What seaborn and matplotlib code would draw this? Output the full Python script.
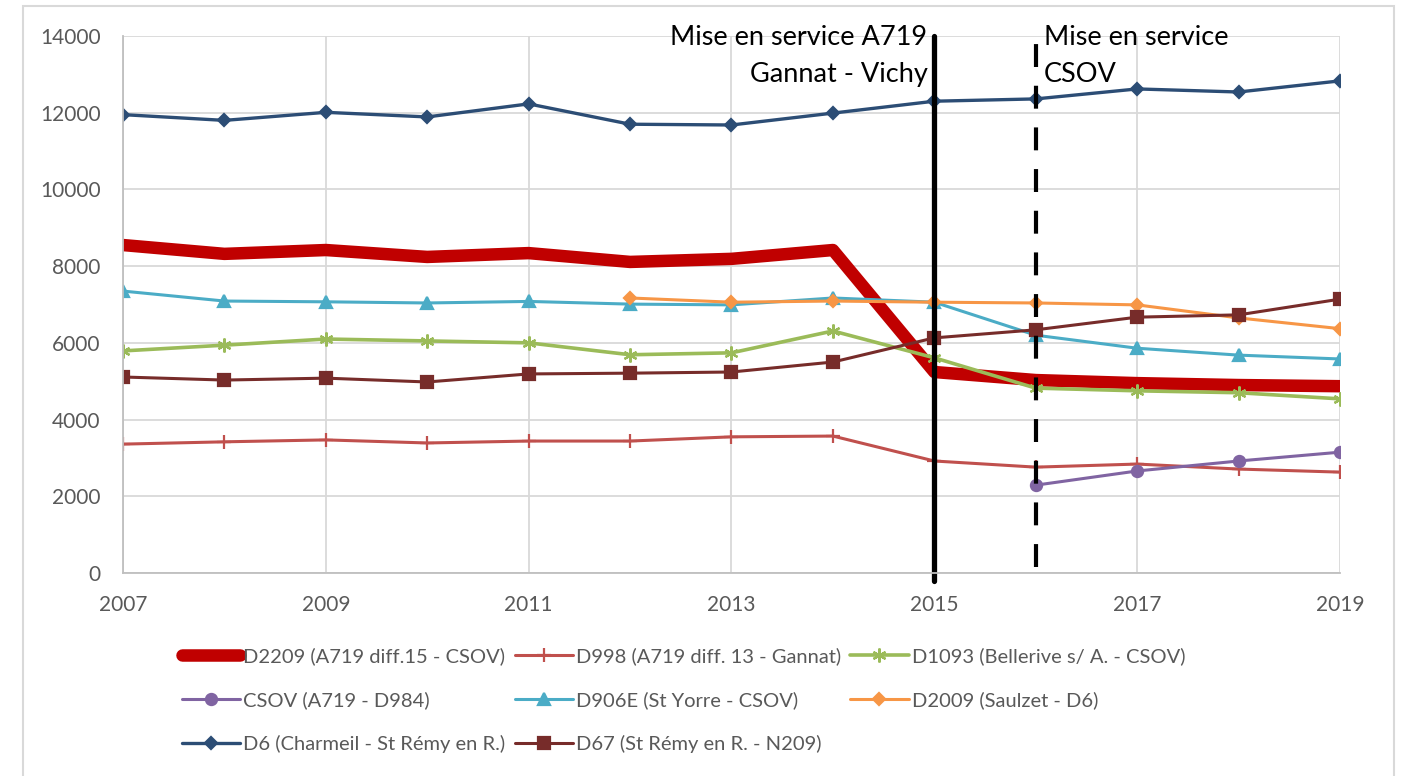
import numpy as np
import matplotlib
matplotlib.use("Agg")
import matplotlib.pyplot as plt
from matplotlib.patches import Rectangle
import seaborn as sns

# Years on the x axis
years = list(range(2007, 2020))

# Traffic values (vehicles / day)
d2209 = [8550, 8320, 8420, 8240, 8340, 8110, 8190, 8420, 5240, 5030, 4950, 4900, 4870]
d998 = [3360, 3420, 3470, 3390, 3440, 3440, 3550, 3570, 2920, 2760, 2840, 2710, 2630]
d1093 = [5790, 5940, 6100, 6050, 6000, 5690, 5740, 6310, 5610, 4820, 4750, 4700, 4540]
csov = [np.nan] * 9 + [2290, 2660, 2920, 3150]
d906e = [7350, 7090, 7070, 7040, 7080, 7010, 6990, 7170, 7060, 6200, 5860, 5680, 5580]
d2009 = [np.nan] * 5 + [7170, 7060, 7090, 7060, 7040, 6990, 6650, 6370]
d6 = [11950, 11800, 12010, 11890, 12230, 11700, 11680, 11990, 12300, 12360, 12620, 12540, 12830]
d67 = [5110, 5030, 5080, 4980, 5190, 5210, 5240, 5500, 6130, 6340, 6670, 6730, 7140]

labels = [
    "D2209 (A719 diff.15 - CSOV)",
    "D998 (A719 diff. 13 - Gannat)",
    "D1093 (Bellerive s/ A. - CSOV)",
    "CSOV (A719 - D984)",
    "D906E (St Yorre - CSOV)",
    "D2009 (Saulzet - D6)",
    "D6 (Charmeil - St Rémy en R.)",
    "D67 (St Rémy en R. - N209)",
]

sns.set_style("white")
plt.rcParams["font.family"] = ["Lato", "DejaVu Sans"]

fig = plt.figure(figsize=(14.11, 7.76), dpi=100)
ax = fig.add_axes([123 / 1411, 1 - 573 / 776, 1217 / 1411, 537 / 776])

# (values, colour, marker, markersize, linewidth)
styles = [
    (d2209, "#C00000", None, 0, 9.0),
    (d998, "#C0504D", "+", 10, 2.2),
    (d1093, "#9BBB59", (6, 2, 0), 10, 2.6),
    (csov, "#8064A2", "o", 8, 2.2),
    (d906e, "#4BACC6", "^", 9, 2.2),
    (d2009, "#F79646", "D", 6.5, 2.2),
    (d6, "#2C4D75", "D", 6.5, 2.4),
    (d67, "#772C2A", "s", 8.5, 2.2),
]

handles = []
for (vals, col, mk, ms, lw), lab in zip(styles, labels):
    sns.lineplot(x=years, y=vals, ax=ax, color=col, marker=mk, markersize=ms,
                 linewidth=lw, markeredgecolor=col, markeredgewidth=1.6,
                 label=lab, legend=False, solid_capstyle="round")
    handles.append(ax.lines[-1])

# Mise en service markers
ax.axvline(2015, ymin=-0.015, ymax=1.0, color="black", linewidth=3.8, clip_on=False)
ax.axvline(2016, ymin=0.012, ymax=1.0, color="black", linewidth=3.0, dashes=(5.5, 4.5))

ax.annotate("Mise en service A719\nGannat - Vichy", xy=(2015, 14000), xytext=(-5, 8),
            textcoords="offset points", ha="right", va="top", fontsize=19.5,
            linespacing=1.6, color="black")
ax.annotate("Mise en service\nCSOV", xy=(2016, 14000), xytext=(6, 8),
            textcoords="offset points", ha="left", va="top", fontsize=19.5,
            linespacing=1.6, color="black")

ax.set_xlim(2007, 2019)
ax.set_ylim(0, 14000)
ax.set_xticks(range(2007, 2020, 2))
ax.set_yticks(range(0, 14001, 2000))
ax.grid(True, color="#D9D9D9", linewidth=1.3)
ax.set_axisbelow(True)
for s in ["top", "right"]:
    ax.spines[s].set_visible(False)
for s in ["left", "bottom"]:
    ax.spines[s].set_color("#BFBFBF")
    ax.spines[s].set_linewidth(1.3)
ax.tick_params(axis="both", length=0, labelsize=15, labelcolor="#595959")
ax.tick_params(axis="x", pad=16)
ax.tick_params(axis="y", pad=16)
ax.set_xlabel("")
ax.set_ylabel("")

# legend laid out row by row like the original
order = [0, 3, 6, 1, 4, 7, 2, 5]
fig.legend([handles[i] for i in order], [labels[i] for i in order],
           loc="upper left", bbox_to_anchor=(182 / 1411, 1 - 647 / 776),
           ncol=3, frameon=False, fontsize=14.5, labelcolor="#595959",
           handlelength=2.9, handletextpad=0.15, columnspacing=0.45,
           labelspacing=1.3, borderpad=0, borderaxespad=0)

# light frame around the chart area
fig.patches.append(Rectangle((23 / 1411, -0.02), (1394 - 23) / 1411, 1 - 6 / 776 + 0.02,
                             transform=fig.transFigure, fill=False,
                             edgecolor="#D9D9D9", linewidth=1.5))

fig.savefig("out.png", dpi=100)
